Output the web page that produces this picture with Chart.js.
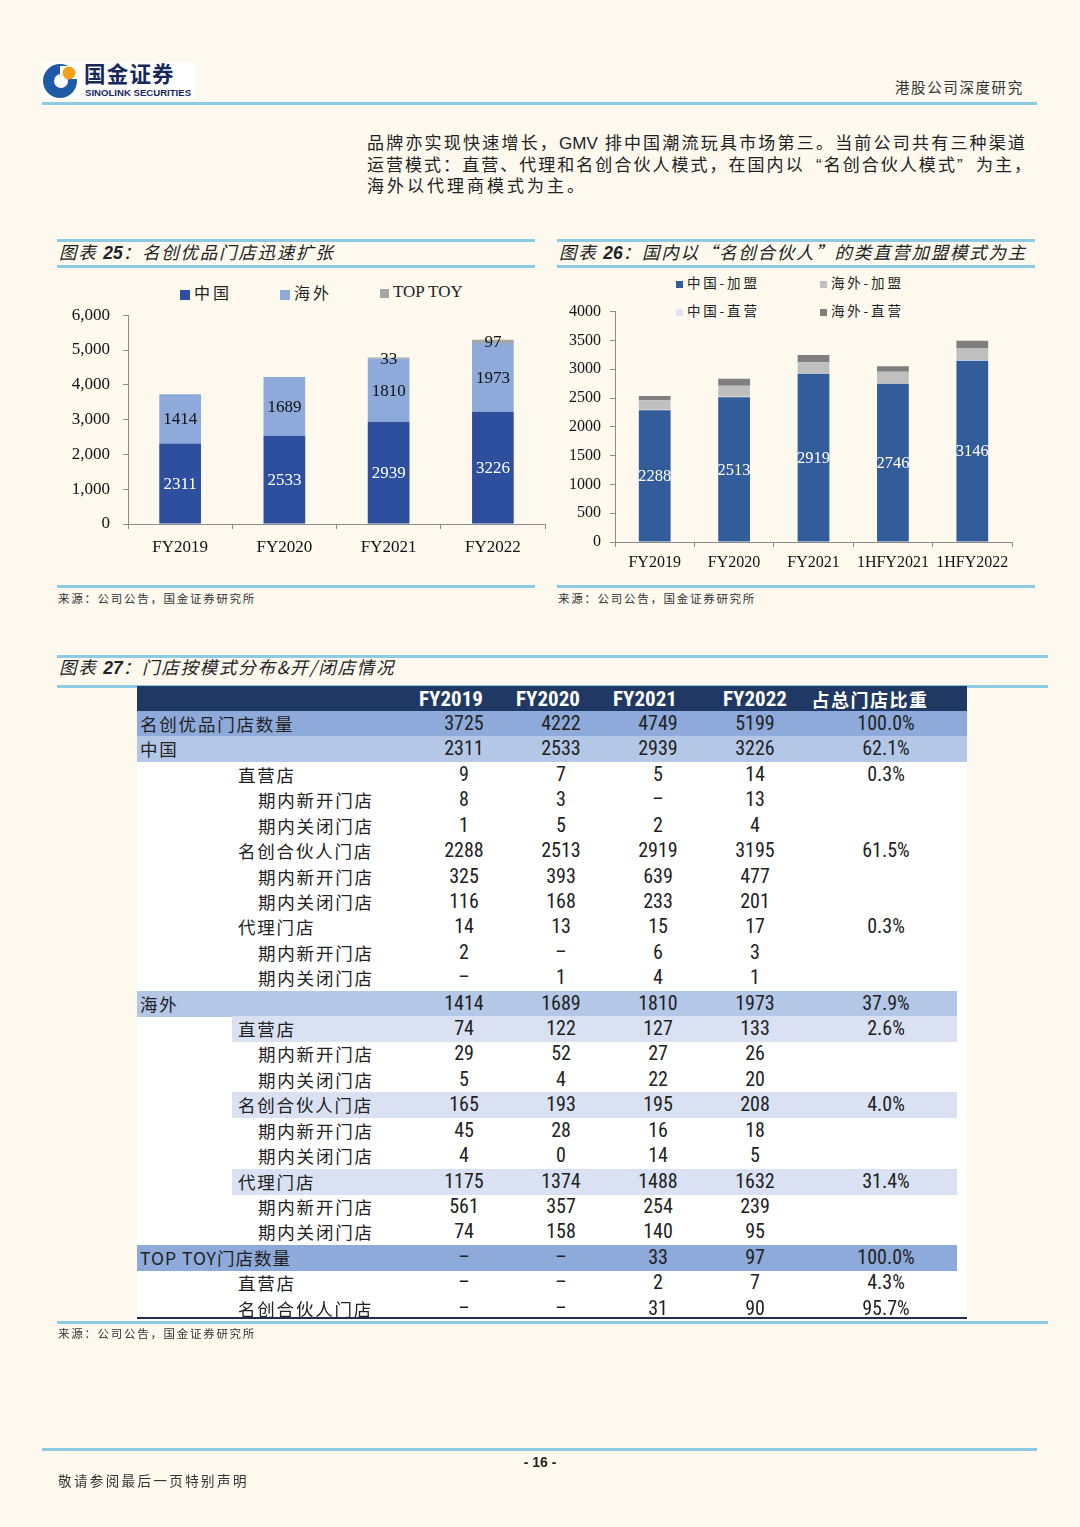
<!DOCTYPE html>
<html><head><meta charset="utf-8">
<script src="https://cdn.jsdelivr.net/npm/chart.js@4.4.0/dist/chart.umd.min.js"></script>
<style>
html,body{margin:0;padding:0;}
body{width:1080px;height:1527px;background:#fdf9ee;position:relative;overflow:hidden;font-family:"Noto Sans CJK SC",sans-serif;color:#222;}
.abs{position:absolute;}
.hline{position:absolute;height:3px;background:#8ccbe2;}
.title{position:absolute;font-size:17.5px;font-style:italic;letter-spacing:1.75px;white-space:nowrap;line-height:20px;color:#222;}
.title b{font-family:"Liberation Sans",Arial,sans-serif;font-style:italic;font-weight:bold;letter-spacing:0;}
.src{position:absolute;font-size:11.5px;letter-spacing:1.7px;white-space:nowrap;color:#333;line-height:14px;}
.para{position:absolute;left:367px;width:658px;font-family:"Liberation Sans","Noto Sans CJK SC",sans-serif;font-size:17px;line-height:20px;height:20px;color:#222;white-space:nowrap;}
.just{text-align:justify;text-align-last:justify;white-space:normal;}
.qo{display:inline-block;width:17px;text-align:right;text-align-last:right;}
.qc{display:inline-block;width:17px;text-align:left;text-align-last:left;}
.leg{position:absolute;white-space:nowrap;color:#222;}
.leg i{display:inline-block;vertical-align:middle;}
canvas{position:absolute;}
.cell{position:absolute;white-space:nowrap;line-height:25px;height:25px;}
.num{font-family:"Liberation Sans Narrow","Roboto Condensed","Liberation Sans",sans-serif;font-size:20px;color:#222;transform:translateX(-50%);}
.lab{font-size:17.5px;letter-spacing:1.8px;color:#222;}
.hdr{font-family:"Liberation Sans Narrow","Roboto Condensed","Liberation Sans",sans-serif;font-weight:bold;font-size:21px;color:#fff;transform:translateX(-50%);}
.hdrc{font-size:18px;font-weight:bold;color:#fff;letter-spacing:1.5px;transform:translateX(-50%);}
</style>
</head>
<body>
<!-- header -->
<div class="abs" style="left:42px;top:62px;width:153px;height:37px;background:#fff;"></div>
<svg class="abs" style="left:42px;top:62px;" width="40" height="38" viewBox="0 0 40 38">
  <circle cx="18" cy="19" r="17" fill="#1f5aa6"/>
  <circle cx="19" cy="19" r="7" fill="#fff"/>
  <rect x="18" y="4" width="20" height="13" fill="#fff"/>
  <circle cx="27" cy="11" r="6.5" fill="#f2a11f"/>
</svg>
<div class="abs" style="left:84px;top:65px;font-family:'Liberation Sans','Noto Sans CJK SC',sans-serif;font-size:21.5px;font-weight:bold;color:#17285a;letter-spacing:1.2px;line-height:21px;height:21px;white-space:nowrap;">国金证券</div>
<div class="abs" style="left:85px;top:88px;font-family:'Liberation Sans',Arial,sans-serif;font-size:9.6px;font-weight:bold;color:#17285a;line-height:10px;white-space:nowrap;">SINOLINK SECURITIES</div>
<div class="abs" style="left:895px;top:77px;font-size:14.5px;letter-spacing:1.6px;color:#333;line-height:20px;white-space:nowrap;">港股公司深度研究</div>
<div class="hline" style="left:42px;top:102px;width:995px;"></div>

<!-- paragraph -->
<div class="para just" style="top:134px;">品牌亦实现快速增长，GMV 排中国潮流玩具市场第三。当前公司共有三种渠道</div>
<div class="para just" style="top:155.5px;width:664px;">运营模式：直营、代理和名创合伙人模式，在国内以<span class="qo">“</span>名创合伙人模式<span class="qc">”</span>为主，</div>
<div class="para" style="top:177px;letter-spacing:3px;">海外以代理商模式为主。</div>

<!-- chart 25 frame -->
<div class="hline" style="left:57px;top:239px;width:478px;"></div>
<div class="title" style="left:59px;top:242px;">图表 <b>25</b>：名创优品门店迅速扩张</div>
<div class="hline" style="left:57px;top:265px;width:478px;"></div>
<div class="hline" style="left:57px;top:585px;width:478px;"></div>
<div class="src" style="left:58px;top:591px;">来源：公司公告，国金证券研究所</div>

<!-- chart 26 frame -->
<div class="hline" style="left:557px;top:239px;width:478px;"></div>
<div class="title" style="left:559px;top:242px;">图表 <b>26</b>：国内以“名创合伙人”的类直营加盟模式为主</div>
<div class="hline" style="left:557px;top:265px;width:478px;"></div>
<div class="hline" style="left:557px;top:585px;width:478px;"></div>
<div class="src" style="left:558px;top:591px;">来源：公司公告，国金证券研究所</div>

<!-- legends -->
<div class="leg" style="left:180px;top:280px;font-size:16px;letter-spacing:3px;"><i style="width:10px;height:10px;background:#2d4f9e;margin-right:4px;"></i>中国</div>
<div class="leg" style="left:280px;top:280px;font-size:16px;letter-spacing:3px;"><i style="width:10px;height:10px;background:#8eaadb;margin-right:4px;"></i>海外</div>
<div class="leg" style="left:380px;top:282px;font-size:17px;font-family:'Liberation Serif',serif;"><i style="width:9px;height:9px;background:#a5a5a5;margin-right:4px;"></i>TOP TOY</div>

<div class="leg" style="left:676px;top:272px;font-size:13.5px;letter-spacing:2.8px;"><i style="width:7px;height:7px;background:#335c9b;margin-right:4px;"></i>中国-加盟</div>
<div class="leg" style="left:820px;top:272px;font-size:13.5px;letter-spacing:2.8px;"><i style="width:7px;height:7px;background:#bfbfbf;margin-right:4px;"></i>海外-加盟</div>
<div class="leg" style="left:676px;top:300px;font-size:13.5px;letter-spacing:2.8px;"><i style="width:7px;height:7px;background:#dde4f3;margin-right:4px;"></i>中国-直营</div>
<div class="leg" style="left:820px;top:300px;font-size:13.5px;letter-spacing:2.8px;"><i style="width:7px;height:7px;background:#7f7f7f;margin-right:4px;"></i>海外-直营</div>

<canvas id="c25" width="490" height="278" style="left:57px;top:292px;width:490px;height:278px;"></canvas>
<canvas id="c26" width="478" height="287" style="left:557px;top:293px;width:478px;height:287px;"></canvas>

<!-- table 27 -->
<div class="hline" style="left:57px;top:655px;width:991px;"></div>
<div class="title" style="left:59px;top:657px;">图表 <b>27</b>：门店按模式分布&amp;开/闭店情况</div>
<div class="hline" style="left:57px;top:685px;width:991px;"></div>
<div id="tbl" class="abs" style="left:0;top:0;width:1080px;height:1527px;"></div>
<div class="hline" style="left:57px;top:1321px;width:991px;"></div>
<div class="src" style="left:58px;top:1326px;">来源：公司公告，国金证券研究所</div>

<!-- footer -->
<div class="hline" style="left:42px;top:1448px;width:995px;"></div>
<div class="abs" style="left:0;width:1080px;top:1453px;text-align:center;font-family:'Liberation Sans',Arial,sans-serif;font-weight:bold;font-size:14px;line-height:18px;">- 16 -</div>
<div class="abs" style="left:58px;top:1471px;font-size:13.5px;letter-spacing:2.4px;color:#333;line-height:18px;white-space:nowrap;">敬请参阅最后一页特别声明</div>

<script>
// ---------- data: chart 25 ----------
const cat25 = ['FY2019','FY2020','FY2021','FY2022'];
const china25 = [2311,2533,2939,3226];
const overseas25 = [1414,1689,1810,1973];
const topToy25 = [null,null,33,97];

// ---------- data: chart 26 ----------
const cat26 = ['FY2019','FY2020','FY2021','1HFY2021','1HFY2022'];
const cnFranchise26 = [2288,2513,2919,2746,3146];
const cnDirect26 = [9,7,5,6,12];
const osFranchise26 = [165,193,195,205,200];
const osDirect26 = [74,122,127,93,138];

// ---------- data: table 27 ----------
const tableHeaders = ['FY2019','FY2020','FY2021','FY2022','占总门店比重'];
const rowLabels = ['名创优品门店数量','中国','直营店','期内新开门店','期内关闭门店','名创合伙人门店','期内新开门店','期内关闭门店','代理门店','期内新开门店','期内关闭门店','海外','直营店','期内新开门店','期内关闭门店','名创合伙人门店','期内新开门店','期内关闭门店','代理门店','期内新开门店','期内关闭门店','TOP TOY门店数量','直营店','名创合伙人门店'];
const rowKinds = ['total','region','sub','item','item','sub','item','item','sub','item','item','region2','subHi','item','item','subHi','item','item','subHi','item','item','brand','sub','sub'];
const fy2019 = ['3725','2311','9','8','1','2288','325','116','14','2','–','1414','74','29','5','165','45','4','1175','561','74','–','–','–'];
const fy2020 = ['4222','2533','7','3','5','2513','393','168','13','–','1','1689','122','52','4','193','28','0','1374','357','158','–','–','–'];
const fy2021 = ['4749','2939','5','–','2','2919','639','233','15','6','4','1810','127','27','22','195','16','14','1488','254','140','33','2','31'];
const fy2022 = ['5199','3226','14','13','4','3195','477','201','17','3','1','1973','133','26','20','208','18','5','1632','239','95','97','7','90'];
const shareOfTotal = ['100.0%','62.1%','0.3%','','','61.5%','','','0.3%','','','37.9%','2.6%','','','4.0%','','','31.4%','','','100.0%','4.3%','95.7%'];

// ---------- bar label plugin ----------
const barLabels = {
  id:'barLabels',
  afterDatasetsDraw(chart){
    const ctx = chart.ctx;
    chart.data.datasets.forEach((ds,i)=>{
      if(!ds.labelColor) return;
      const meta = chart.getDatasetMeta(i);
      meta.data.forEach((el,j)=>{
        const v = ds.data[j];
        if(v==null) return;
        ctx.save();
        ctx.font = ds.labelFont;
        ctx.fillStyle = ds.labelColor;
        ctx.textAlign='center'; ctx.textBaseline='middle';
        ctx.fillText(String(v), el.x, (el.y+el.base)/2 + 1);
        ctx.restore();
      });
    });
  }
};

const serif = "'Liberation Serif','Times New Roman',serif";

function axes(opts){
  return {
    x:{stacked:true,
       grid:{display:true,offset:true,drawOnChartArea:false,drawTicks:true,tickLength:5,color:'#8c8c8c'},
       border:{display:true,color:'#8c8c8c',width:1},
       ticks:{color:'#111',font:{family:serif,size:opts.xFont},padding:opts.xPad,maxRotation:0,autoSkip:false},
       afterFit:s=>{s.height=opts.xH;}},
    y:{stacked:true,min:0,max:opts.max,
       grid:{display:true,drawOnChartArea:false,drawTicks:true,tickLength:5,color:'#8c8c8c'},
       border:{display:true,color:'#8c8c8c',width:1},
       ticks:{stepSize:opts.step,color:'#111',font:{family:serif,size:opts.yFont},padding:opts.yPad,
              callback:v=>opts.comma?Number(v).toLocaleString('en-US'):String(v)},
       afterFit:s=>{s.width=opts.yW;}}
  };
}

new Chart(document.getElementById('c25'),{
  type:'bar',
  data:{labels:cat25,datasets:[
    {label:'中国',data:china25,backgroundColor:'#2d4f9e',labelColor:'#ffffff',labelFont:"17px "+serif},
    {label:'海外',data:overseas25,backgroundColor:'#8eaadb',labelColor:'#111111',labelFont:"17px "+serif},
    {label:'TOP TOY',data:topToy25,backgroundColor:'#a5a5a5',labelColor:'#111111',labelFont:"17px "+serif}
  ]},
  options:{responsive:false,animation:false,devicePixelRatio:1,
    datasets:{bar:{barPercentage:0.4,categoryPercentage:1}},
    layout:{padding:{top:8,right:2,left:0,bottom:0}},
    plugins:{legend:{display:false},tooltip:{enabled:false}},
    scales:axes({max:6000,step:1000,comma:true,xFont:17,yFont:17,xPad:8,yPad:13,xH:46,yW:71})
  },
  plugins:[barLabels]
});

new Chart(document.getElementById('c26'),{
  type:'bar',
  data:{labels:cat26,datasets:[
    {label:'中国-加盟',data:cnFranchise26,backgroundColor:'#335c9b',labelColor:'#ffffff',labelFont:"16.5px "+serif},
    {label:'中国-直营',data:cnDirect26,backgroundColor:'#dde4f3'},
    {label:'海外-加盟',data:osFranchise26,backgroundColor:'#bfbfbf'},
    {label:'海外-直营',data:osDirect26,backgroundColor:'#7f7f7f'}
  ]},
  options:{responsive:false,animation:false,devicePixelRatio:1,
    datasets:{bar:{barPercentage:0.4,categoryPercentage:1}},
    layout:{padding:{top:4,right:23,left:0,bottom:0}},
    plugins:{legend:{display:false},tooltip:{enabled:false}},
    scales:axes({max:4000,step:500,comma:false,xFont:16,yFont:16,xPad:6,yPad:9,xH:38,yW:58})
  },
  plugins:[barLabels]
});

// ---------- table ----------
(function(){
  const tbl = document.getElementById('tbl');
  function box(l,t,w,h,bg){const d=document.createElement('div');d.className='abs';d.style.cssText=`left:${l}px;top:${t}px;width:${w}px;height:${h}px;background:${bg};`;tbl.appendChild(d);}
  function txt(cls,l,t,s){const d=document.createElement('div');d.className='cell '+cls;d.style.left=l+'px';d.style.top=t+'px';d.textContent=s;tbl.appendChild(d);return d;}
  const top0=711,rh=25.42;
  box(137,686,830,25,'#203864');
  box(137,711,830,607,'#ffffff');
  const hx=[451,548,645,755,870];
  tableHeaders.forEach((h,k)=>{txt(k<4?'hdr':'hdrc',hx[k],686.5,h);});
  const bgMap={total:[137,830,'#8eaadb'],region:[137,830,'#b4c7e7'],region2:[137,820,'#b4c7e7'],subHi:[232,725,'#d9e1f2'],brand:[137,820,'#8eaadb']};
  const indent={total:140,region:140,region2:140,brand:140,sub:238,subHi:238,item:258};
  const vx=[464,561,658,755,886];
  rowLabels.forEach((lab,i)=>{
    const t=top0+i*rh, k=rowKinds[i];
    if(bgMap[k]) box(bgMap[k][0],t,bgMap[k][1],rh+0.6,bgMap[k][2]);
    const lt=txt('lab',indent[k],t,lab);
    if(k==='brand'){lt.style.letterSpacing='1px';}
    [fy2019[i],fy2020[i],fy2021[i],fy2022[i],shareOfTotal[i]].forEach((v,c)=>{ if(v!=='') txt('num',vx[c],t,v); });
  });
  box(137,1317,830,2,'#1f2f4f');
})();
</script>
</body></html>
